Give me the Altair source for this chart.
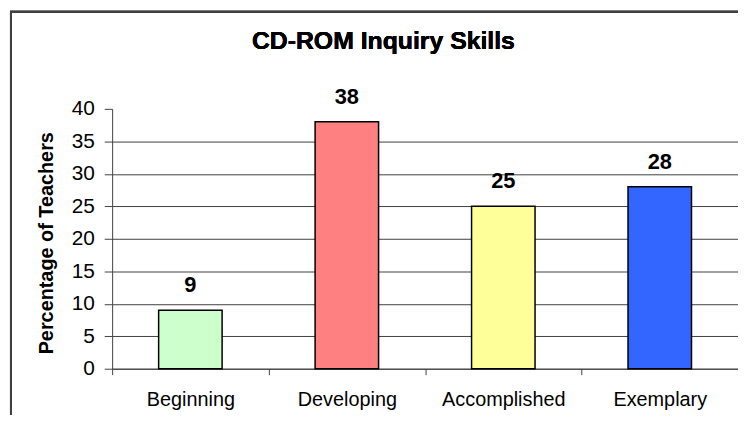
import altair as alt
import pandas as pd

categories = ["Beginning", "Developing", "Accomplished", "Exemplary"]
values = [9, 38, 25, 28]
colors = ["#CCFFCC", "#FF8080", "#FFFF99", "#3366FF"]
y_ticks = [0, 5, 10, 15, 20, 25, 30, 35, 40]
chart_title = "CD-ROM Inquiry Skills"

df = pd.DataFrame({"category": categories, "value": values})

FONT = "Liberation Sans"

x_enc = alt.X(
    "category:N",
    sort=None,
    scale=alt.Scale(paddingInner=0, paddingOuter=0),
    axis=alt.Axis(
        title=None,
        labelAngle=0,
        labelFontSize=20,
        labelFont=FONT,
        labelColor="#000000",
        labelPadding=15,
        tickSize=6,
        tickColor="#404040",
        domainColor="#404040",
        tickBand="extent",
        grid=False,
    ),
)

y_enc = alt.Y(
    "value:Q",
    scale=alt.Scale(domain=[0, 40], nice=False),
    axis=alt.Axis(
        values=y_ticks,
        labelOverlap=False,
        title="Percentage of Teachers",
        titleFont=FONT,
        titleFontSize=20,
        titleFontWeight="bold",
        titleColor="#000000",
        titleX=-60,
        titleY=135,
        titleAlign="center",
        titleBaseline="alphabetic",
        titleAngle=270,
        labelFontSize=21,
        labelFont=FONT,
        labelColor="#000000",
        labelPadding=10,
        tickSize=8,
        tickColor="#404040",
        domainColor="#404040",
        grid=True,
        gridColor="#404040",
        gridWidth=1,
        gridOpacity={"condition": {"test": "datum.value === 40", "value": 0}, "value": 1},
    ),
)

bars = alt.Chart(df).mark_bar(size=64, stroke="#000000", strokeWidth=1.5).encode(
    x=x_enc,
    y=y_enc,
    color=alt.Color("category:N", sort=None,
                    scale=alt.Scale(domain=categories, range=colors), legend=None),
)

labels = alt.Chart(df).mark_text(
    font=FONT, fontSize=22, fontWeight="bold", color="#000000",
    baseline="alphabetic", dy=-18,
).encode(
    x=x_enc,
    y=y_enc,
    text=alt.Text("value:Q"),
)

border = alt.Chart(df).mark_rect(
    filled=False, stroke="#404040", strokeWidth=2
).encode(
    x=alt.value(-102), x2=alt.value(700),
    y=alt.value(-98), y2=alt.value(420),
)

title_mark = alt.Chart(df).mark_text(
    font=FONT, fontSize=25, fontWeight="bold", color="#000000",
    baseline="alphabetic", align="center",
).encode(
    x=alt.value(273.5),
    y=alt.value(-60),
    text=alt.value(chart_title),
)

chart = alt.layer(border, bars, labels, title_mark).properties(
    width=631,
    height=262,
    autosize=alt.AutoSizeParams(type="none"),
    padding={"left": 105, "top": 100, "right": 0, "bottom": 45},
).configure_view(stroke=None)

chart.save("out.html", embed_options={"renderer": "svg", "actions": False})
